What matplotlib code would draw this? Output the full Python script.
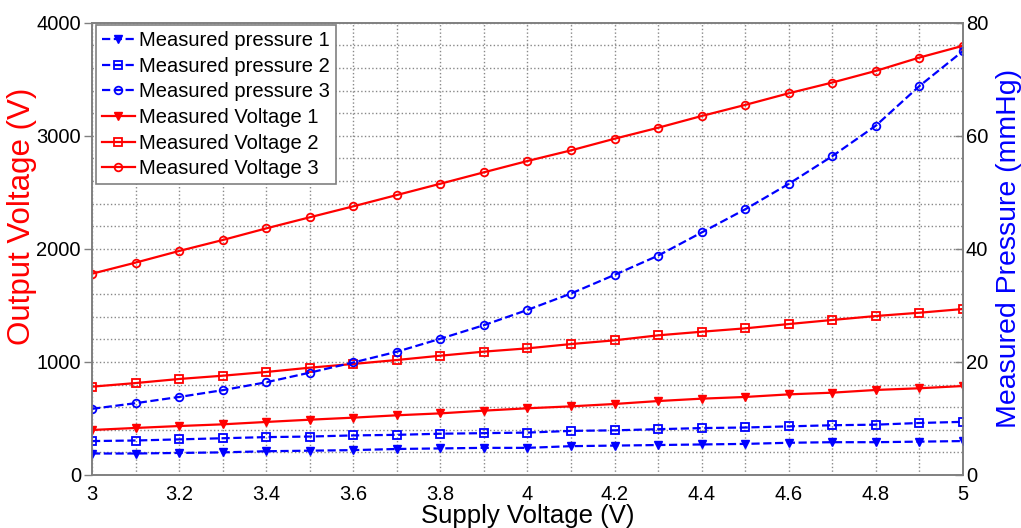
import matplotlib.pyplot as plt
from matplotlib.ticker import MultipleLocator

plt.rcParams["font.family"] = ["Liberation Sans", "DejaVu Sans"]

supply_v = [3.0, 3.1, 3.2, 3.3, 3.4, 3.5, 3.6, 3.7, 3.8, 3.9, 4.0,
            4.1, 4.2, 4.3, 4.4, 4.5, 4.6, 4.7, 4.8, 4.9, 5.0]

# output voltage (V), left axis
voltage_1 = [398, 416, 433, 448, 469, 489, 507, 528, 545, 569, 590,
             607, 628, 654, 675, 690, 713, 728, 752, 767, 787]
voltage_2 = [781, 813, 849, 878, 911, 949, 982, 1017, 1055, 1091, 1120,
             1158, 1191, 1235, 1267, 1297, 1335, 1371, 1406, 1435, 1468]
voltage_3 = [1780, 1878, 1981, 2078, 2181, 2279, 2376, 2476, 2576, 2677, 2777,
             2871, 2974, 3071, 3175, 3273, 3376, 3471, 3574, 3692, 3796]

# measured pressure (mmHg), right axis
pressure_1 = [3.8, 3.8, 3.9, 4.0, 4.2, 4.3, 4.4, 4.6, 4.7, 4.8, 4.8,
              5.1, 5.2, 5.3, 5.4, 5.5, 5.7, 5.8, 5.8, 5.9, 6.0]
pressure_2 = [6.0, 6.1, 6.3, 6.5, 6.7, 6.8, 7.0, 7.1, 7.3, 7.4, 7.5,
              7.8, 7.9, 8.1, 8.3, 8.4, 8.6, 8.8, 8.9, 9.2, 9.4]
pressure_3 = [11.7, 12.7, 13.8, 15.0, 16.4, 18.1, 19.9, 21.8, 24.1, 26.5, 29.2,
              32.1, 35.4, 38.8, 42.9, 47.0, 51.5, 56.4, 61.8, 68.8, 75.0]

RED = "#ff0000"
BLUE = "#0000ff"
SPINE = "#808080"

fig = plt.figure(figsize=(10.21, 5.28), dpi=100)
ax1 = fig.add_axes([0.0901, 0.1004, 0.8531, 0.8566])
ax2 = ax1.twinx()

# left axis: voltages
h_v1, = ax1.plot(supply_v, voltage_1, "-", color=RED, lw=1.6, marker="v", ms=6,
                 mfc=RED, mec=RED)
h_v2, = ax1.plot(supply_v, voltage_2, "-", color=RED, lw=1.6, marker="s", ms=5.5,
                 mfc="none", mec=RED, mew=1.3)
h_v3, = ax1.plot(supply_v, voltage_3, "-", color=RED, lw=1.6, marker="o", ms=5.5,
                 mfc="none", mec=RED, mew=1.3)

# right axis: pressures
h_p1, = ax2.plot(supply_v, pressure_1, "--", color=BLUE, lw=1.6, marker="v", ms=6,
                 mfc=BLUE, mec=BLUE)
h_p2, = ax2.plot(supply_v, pressure_2, "--", color=BLUE, lw=1.6, marker="s", ms=5.5,
                 mfc="none", mec=BLUE, mew=1.3)
h_p3, = ax2.plot(supply_v, pressure_3, "--", color=BLUE, lw=1.6, marker="o", ms=5.5,
                 mfc="none", mec=BLUE, mew=1.3)

ax1.set_xlim(3, 5)
ax1.set_ylim(0, 4000)
ax2.set_ylim(0, 80)

ax1.xaxis.set_major_locator(MultipleLocator(0.2))
ax1.xaxis.set_minor_locator(MultipleLocator(0.1))
ax1.yaxis.set_major_locator(MultipleLocator(1000))
ax1.yaxis.set_minor_locator(MultipleLocator(200))
ax2.yaxis.set_major_locator(MultipleLocator(20))
ax1.set_xticklabels([f"{v:g}" for v in ax1.get_xticks()])

ax1.grid(True, which="both", linestyle=":", color="#888888", linewidth=1.0)
ax1.set_axisbelow(True)

ax1.tick_params(axis="x", direction="in", length=0, labelsize=14.5, colors="black",
                pad=7)
ax1.tick_params(axis="y", direction="out", length=6, width=1, labelsize=14.5,
                color=SPINE, pad=2)
ax1.tick_params(which="minor", length=0)
ax2.tick_params(axis="y", direction="in", length=6, width=1, labelsize=14.5,
                color=SPINE, pad=2)

for ax in (ax1, ax2):
    for sp in ax.spines.values():
        sp.set_color(SPINE)
        sp.set_linewidth(1.2)

ax1.set_xlabel("Supply Voltage (V)", fontsize=18.5, labelpad=0)
ax1.set_ylabel("Output Voltage (V)", fontsize=22.5, color=RED)
ax1.yaxis.set_label_coords(-0.063, 0.573)
ax2.set_ylabel("Measured Pressure (mmHg)", fontsize=20.5, color=BLUE, labelpad=6)

handles = [h_p1, h_p2, h_p3, h_v1, h_v2, h_v3]
labels = ["Measured pressure 1", "Measured pressure 2", "Measured pressure 3",
          "Measured Voltage 1", "Measured Voltage 2", "Measured Voltage 3"]
leg = ax2.legend(handles, labels, loc="upper left", bbox_to_anchor=(0.005, 0.995),
                 fontsize=14.5, fancybox=False, framealpha=1, edgecolor=SPINE,
                 handlelength=1.6, handletextpad=0.2, borderpad=0.3,
                 labelspacing=0.33, borderaxespad=0)
leg.get_frame().set_linewidth(1.2)

fig.savefig("out.png", dpi=100)
